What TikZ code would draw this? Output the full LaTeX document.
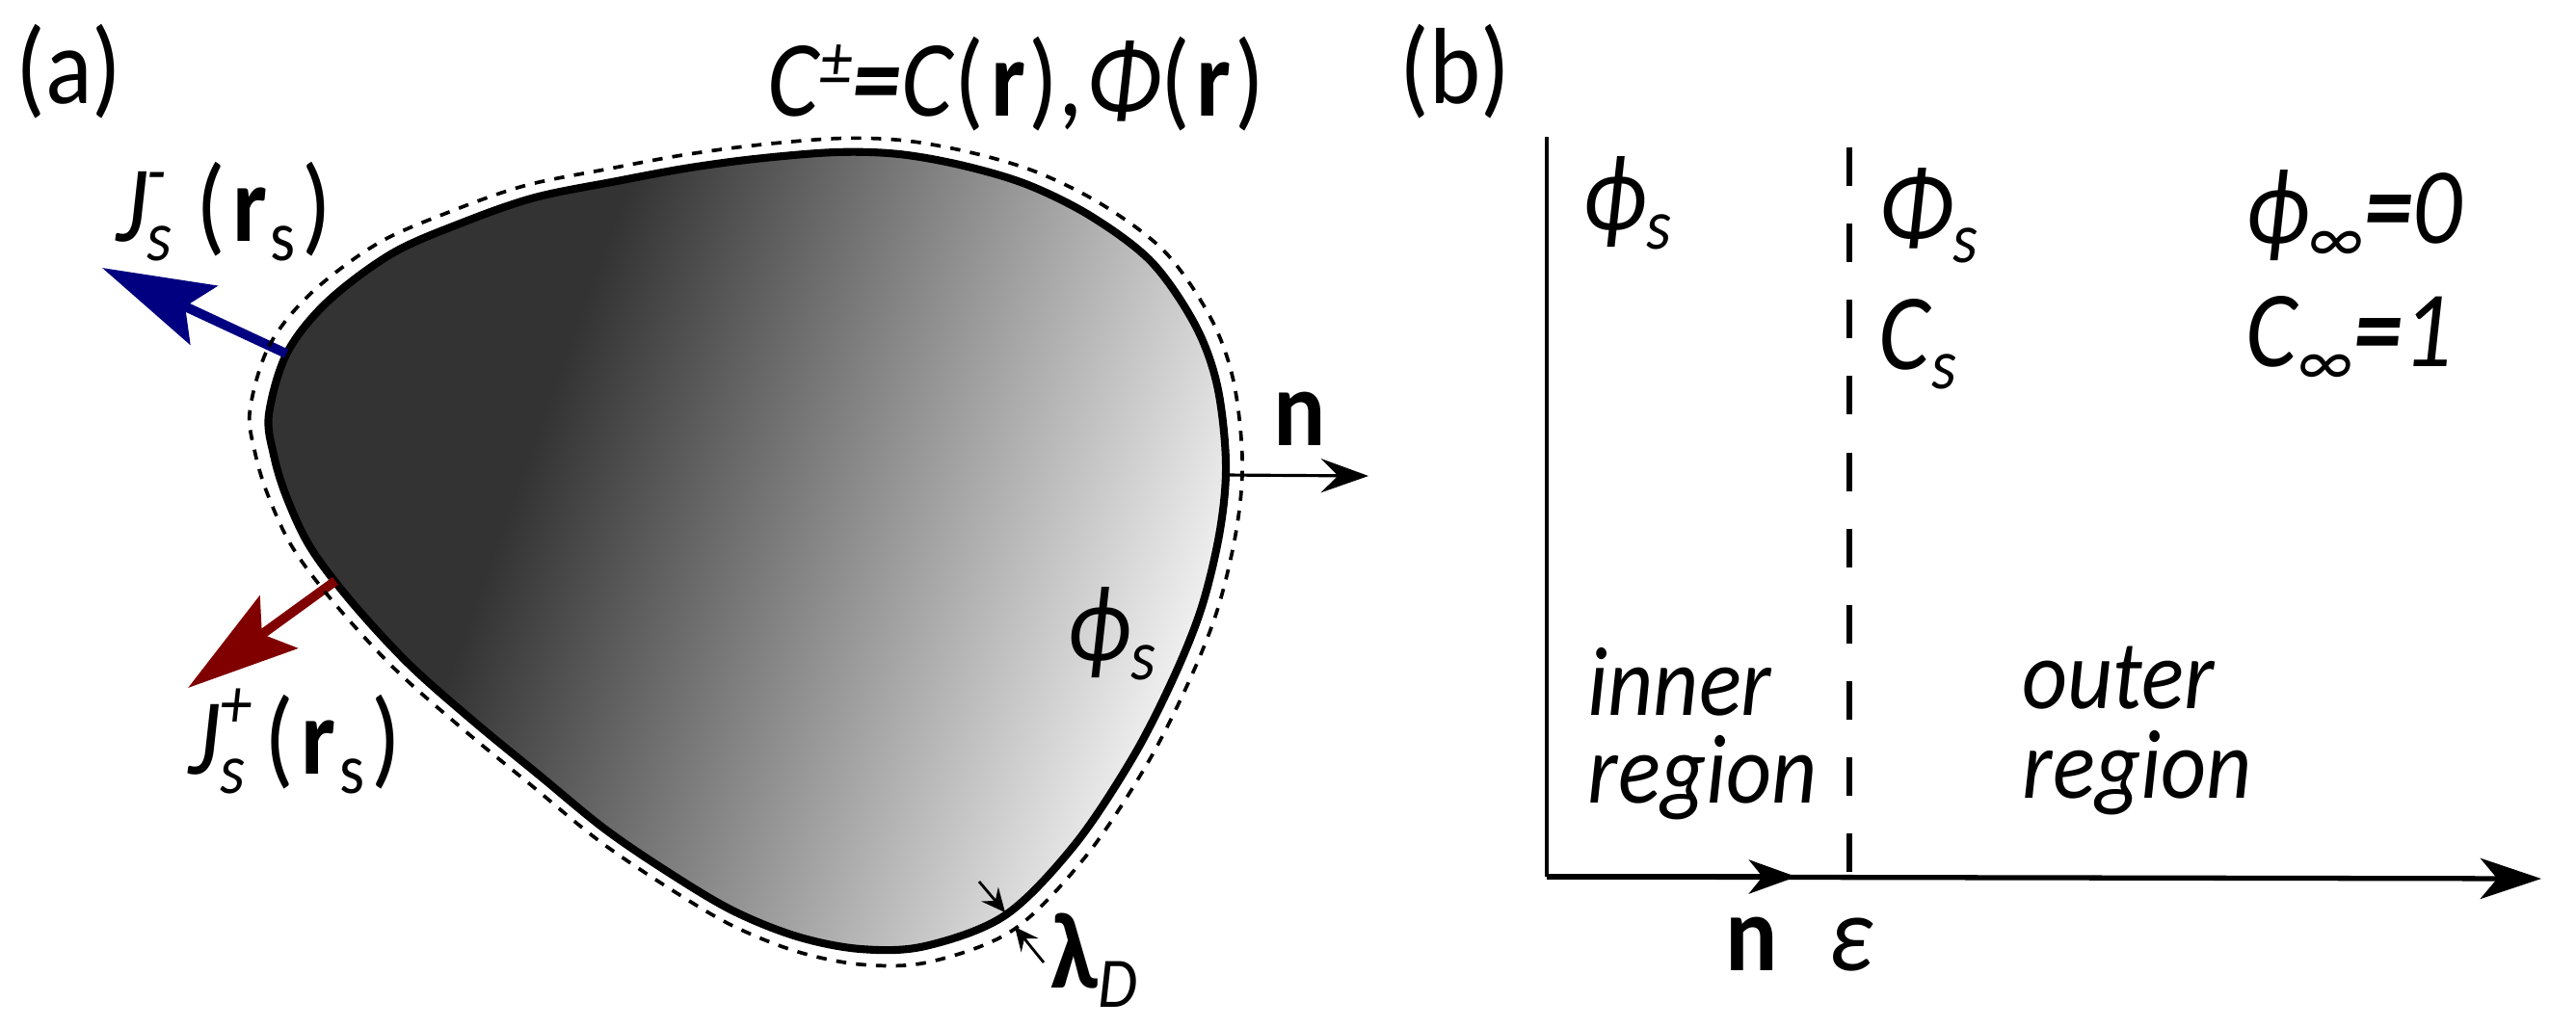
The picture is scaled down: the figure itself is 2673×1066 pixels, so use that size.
\documentclass[tikz,border=0pt]{standalone}
\usepackage{fontspec}
\setmainfont[FakeStretch=0.9]{Carlito}
\usetikzlibrary{arrows.meta}
\pgfdeclarehorizontalshading{blobshade}{100bp}{color(0bp)=(black!80); color(37bp)=(black!80); color(76bp)=(black!3); color(100bp)=(black!3)}
\definecolor{fluxblue}{RGB}{0,0,128}
\definecolor{fluxred}{RGB}{128,0,0}
\def\blobcurve{plot[smooth cycle,tension=.55] coordinates {(279,430) (298,366) (340,313) (407,263) (480,231) (555,205) (640,188) (710,175) (783,165) (867,158) (933,160) (1000,172) (1067,192) (1133,225) (1195,272) (1240,337) (1263,400) (1272,480) (1266,550) (1247,630) (1217,705) (1175,787) (1115,877) (1043,950) (960,982) (893,985) (827,972) (760,945) (693,905) (627,860) (560,805) (493,750) (425,690) (365,625) (322,568) (297,515) (284,472)}}
\newcommand{\subfont}{\fontsize{21}{21}\selectfont}
\newcommand{\vsub}[1]{\raisebox{-5.7pt}{\subfont\textit{#1}}}
\newcommand{\vboth}[2]{\rlap{\raisebox{13.6pt}{\subfont\textit{#2}}}\vsub{#1}}
\newcommand{\bfr}{\kern2pt\textbf{r}\kern1pt}
\newcommand{\bfrs}{\kern2pt\textbf{r}\kern1pt\raisebox{-5.7pt}{\subfont s}\kern2pt}
\tikzset{
  lbl/.style={inner sep=0pt,anchor=base west,font=\fontsize{32}{32}\selectfont},
  regionlbl/.style={inner sep=0pt,anchor=base west,font=\fontsize{29}{29}\selectfont\itshape},
  flux/.style={line width=2.8pt,-{Stealth[length=33pt,width=19pt,inset=6pt]}},
  thinarrow/.style={line width=.9pt,-{Stealth[length=14pt,width=10pt,inset=5pt]}},
  gaparrow/.style={line width=.8pt,-{Stealth[length=7pt,width=6.5pt,inset=2.5pt]}},
  axisline/.style={line width=1.5pt}
}
\begin{document}
\begin{tikzpicture}[x=0.01cm,y=-0.01cm]
  \path[use as bounding box] (0,0) rectangle (2673,1066);
  % left part
  \path[shading=blobshade,shading angle=-20] \blobcurve;
  \draw[line width=2.3pt] \blobcurve;
  \coordinate (bluestart) at (297,367);
  \coordinate (bluetip) at (106,278);
  \coordinate (redstart) at (348,603);
  \coordinate (redtip) at (195,714);
  \coordinate (nstart) at (1271,493);
  \coordinate (ntip) at (1420,494);
  \coordinate (lamtail) at (1016,915);
  \coordinate (lamtip) at (1043,947);
  \coordinate (lamtailb) at (1083,999);
  \coordinate (lamtipb) at (1053,962);
  \draw[flux,fluxblue] (bluestart) -- (bluetip);
  \draw[flux,fluxred] (redstart) -- (redtip);
  \draw[thinarrow] (nstart) -- (ntip);
  \draw[gaparrow] (lamtail) -- (lamtip);
  \draw[gaparrow] (lamtailb) -- (lamtipb);
  \draw[line width=1.05pt,dash pattern=on 3pt off 2.9pt,scale around={1.037:(810,545)}] \blobcurve;
  \node[lbl] (parta) at (16,107) {(a)};
  \node[lbl] (conc) at (796,120) {\textit{C}\raisebox{9pt}{\subfont\textit{±}}\textbf{\textit{=}}\textit{C}(\bfr),\kern1pt\textit{Φ}(\bfr)};
  \node[lbl] (jminus) at (120,250) {\textit{J}\vboth{s}{-}\kern7pt(\bfrs)};
  \node[lbl] (jplus) at (195,803) {\textit{J}\vboth{s}{+}\kern6pt(\bfrs)};
  \node[lbl] (nleft) at (1321,462) {\textbf{n}};
  \node[lbl] (phileft) at (1107,685) {\textit{ϕ}\vsub{s}};
  \node[lbl] (lam) at (1090,1025) {\textbf{λ}\vsub{D}};
  % right part
  \coordinate (origin) at (1605,910);
  \coordinate (ytop) at (1605,142);
  \coordinate (xtip) at (2637,912);
  \coordinate (ntipb) at (1864,910);
  \coordinate (dashtop) at (1919,153);
  \coordinate (dashend) at (1919,910);
  \draw[line width=1.1pt] (ytop) -- (origin);
  \draw[axisline,-{Stealth[length=18pt,width=12pt,inset=5pt]}] (origin) -- (xtip);
  \draw[axisline,-{Stealth[length=14pt,width=10pt,inset=4pt]}] (origin) -- (ntipb);
  \draw[line width=1.6pt,dash pattern=on 11.4pt off 11.1pt] (dashtop) -- (dashend);
  \node[lbl] (partb) at (1452,107) {(b)};
  \node[lbl] (phiin) at (1642,238) {\textit{ϕ}\vsub{s}};
  \node[lbl] (phiout) at (1949,252) {\textit{Φ}\vsub{s}};
  \node[lbl] (cout) at (1949,383) {\textit{C}\vsub{s}};
  \node[lbl] (phiinf) at (2330,252) {\textit{ϕ}\vsub{∞}\textbf{\textit{=}}\textit{0}};
  \node[lbl] (cinf) at (2330,380) {\textit{C}\vsub{∞}\textbf{\textit{=}}\textit{1}};
  \node[regionlbl] (inner) at (1647,742) {inner};
  \node[regionlbl] (regionin) at (1647,833) {region};
  \node[regionlbl] (outer) at (2098,735) {outer};
  \node[regionlbl] (regionout) at (2098,828) {region};
  \node[lbl] (naxis) at (1790,1007) {\textbf{n}};
  \node[lbl] (eps) at (1897,1007) {\textit{ε}};
\end{tikzpicture}
\end{document}
